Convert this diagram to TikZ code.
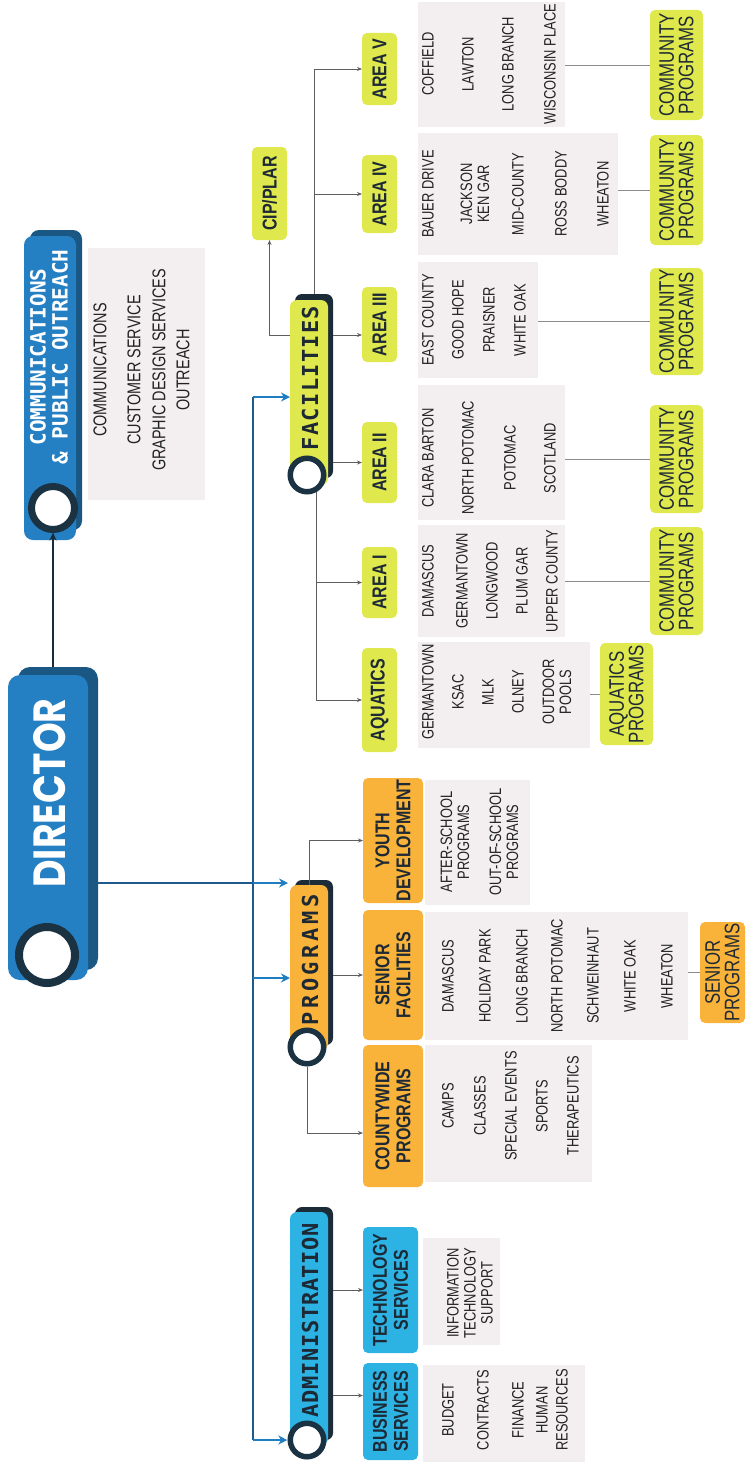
\documentclass[tikz,border=0pt]{standalone}
\usepackage{fontspec}
\setmainfont{Liberation Sans}
\newfontfamily\condf[FakeStretch=0.8]{Liberation Sans}
\newfontfamily\itemf[FakeStretch=0.78]{Liberation Sans}
\newfontfamily\monof{DejaVu Sans Mono}
\newfontfamily\dirf[FakeStretch=0.84]{Poppins}
\usetikzlibrary{arrows.meta}
\definecolor{dirblue}{HTML}{2580C3}
\definecolor{dirshadow}{HTML}{1A5783}
\definecolor{hshadow}{HTML}{1B2B38}
\definecolor{ringc}{HTML}{1B3242}
\definecolor{cyanc}{HTML}{2DB3E3}
\definecolor{orangec}{HTML}{F9B33A}
\definecolor{limec}{HTML}{DFE84C}
\definecolor{panelc}{HTML}{F3EFF0}
\definecolor{itemc}{HTML}{222222}
\definecolor{linec}{HTML}{1E5A8C}
\definecolor{arrowc}{HTML}{1F7DC1}
\definecolor{graylc}{HTML}{5E5E5E}
\definecolor{commlc}{HTML}{8C8C8C}
\definecolor{boxtext}{HTML}{1D2935}
\tikzset{
  panel/.style={fill=panelc, inner sep=0pt, outer sep=0pt},
  hbar/.style={rounded corners=7pt, inner sep=0pt, outer sep=0pt},
  ring/.style={circle, fill=white, draw=ringc, inner sep=0pt, outer sep=3pt},
  htext/.style={rotate=90, inner sep=0pt, align=center, text=boxtext, font=\monof\bfseries\fontsize{22}{22}\selectfont},
  subbox/.style={rotate=90, rounded corners=5pt, inner sep=0pt, outer sep=0pt, align=center, text=boxtext, font=\condf\bfseries\fontsize{20}{21}\selectfont},
  progbox/.style={rotate=90, rounded corners=5pt, inner sep=0pt, outer sep=0pt, align=center, text=boxtext, font=\condf\fontsize{21}{19.5}\selectfont},
  item/.style={rotate=90, inner sep=0pt, align=center, text=itemc, font=\itemf\fontsize{16.5}{17}\selectfont},
  commitem/.style={rotate=90, inner sep=0pt, align=center, text=itemc, font=\itemf\fontsize{18.5}{18}\selectfont},
  mainline/.style={draw=linec, line width=1.8pt},
  mainarrow/.style={draw=arrowc, line width=1.8pt, -{Stealth[length=9pt,width=9pt]}},
  subarrow/.style={draw=graylc, line width=0.9pt, -{Stealth[length=5pt,width=4pt]}},
  commline/.style={draw=commlc, line width=0.9pt},
}
\begin{document}
\begin{tikzpicture}[x=1pt,y=-1pt]
\useasboundingbox (0,0) rectangle (746,1464);

% ---------- panels ----------
\node[panel, minimum width=117pt, minimum height=252pt] (pancom) at (146.5,374) {};
\node[panel, minimum width=147pt, minimum height=125pt] (pan5) at (491.5,64.5) {};
\node[panel, minimum width=200pt, minimum height=122pt] (pan4) at (518,194) {};
\node[panel, minimum width=120pt, minimum height=116pt] (pan3) at (478,320) {};
\node[panel, minimum width=147pt, minimum height=135pt] (pan2) at (491.5,452.5) {};
\node[panel, minimum width=147pt, minimum height=112pt] (pan1) at (491.5,581) {};
\node[panel, minimum width=172pt, minimum height=106pt] (panaq) at (504,695) {};
\node[panel, minimum width=105pt, minimum height=125pt] (panyd) at (477.5,842.5) {};
\node[panel, minimum width=263pt, minimum height=128pt] (pansf) at (556.5,976) {};
\node[panel, minimum width=167pt, minimum height=137pt] (pancw) at (508.5,1113.5) {};
\node[panel, minimum width=77pt, minimum height=107pt] (pants) at (461.5,1291.5) {};
\node[panel, minimum width=162pt, minimum height=97pt] (panbs) at (504,1413.5) {};

% ---------- header bars ----------
% Director
\node[hbar, rounded corners=12pt, fill=dirshadow, minimum width=80pt, minimum height=303pt] (dirsh) at (58,818.5) {};
\node[hbar, rounded corners=12pt, fill=dirblue, minimum width=80pt, minimum height=305pt] (dir) at (48,827.5) {};
\node[ring, line width=8pt, minimum size=56pt] (dcirc) at (47,955) {};
\node[rotate=90, inner sep=0pt, text=white, font=\dirf\bfseries\fontsize{45}{45}\selectfont] (dirlab) at (50,793) {DIRECTOR};
% Communications
\node[hbar, rounded corners=9pt, fill=dirshadow, minimum width=52pt, minimum height=300pt] (comsh) at (56,380) {};
\node[hbar, rounded corners=9pt, fill=dirblue, minimum width=52pt, minimum height=304pt] (com) at (50,388) {};
\node[ring, line width=7pt, minimum size=43pt] (ccirc) at (53,508) {};
\node[htext, text=white, font=\monof\bfseries\fontsize{21}{22}\selectfont] (comlab) at (49,357) {COMMUNICATIONS\\\& PUBLIC OUTREACH};
% Administration
\node[hbar, fill=hshadow, minimum width=38pt, minimum height=233pt] (admsh) at (314,1323.5) {};
\node[hbar, fill=cyanc, minimum width=38pt, minimum height=233pt] (adm) at (309,1328.5) {};
\node[ring, line width=5.5pt, minimum size=33.5pt] (acirc) at (307,1440) {};
\node[htext] (admlab) at (310,1320) {{\addfontfeature{LetterSpace=3}ADMINISTRATION}};
% Programs
\node[hbar, fill=hshadow, minimum width=38pt, minimum height=165pt] (progsh) at (314,962.5) {};
\node[hbar, fill=orangec, minimum width=38pt, minimum height=165pt] (prog) at (309,967.5) {};
\node[ring, line width=5.5pt, minimum size=33.5pt] (pcirc) at (307,1047) {};
\node[htext] (proglab) at (310,960) {{\addfontfeature{LetterSpace=16}PROGRAMS}};
% Facilities
\node[hbar, fill=hshadow, minimum width=38pt, minimum height=184pt] (facsh) at (314,386) {};
\node[hbar, fill=limec, minimum width=38pt, minimum height=185pt] (fac) at (309,392.5) {};
\node[ring, line width=5.5pt, minimum size=33.5pt] (fcirc) at (307,475) {};
\node[htext] (faclab) at (310,378) {{\addfontfeature{LetterSpace=6}FACILITIES}};

% ---------- sub boxes ----------
\node[subbox, fill=cyanc, minimum width=97pt, minimum height=55pt] (bs) at (390.5,1411.5) {BUSINESS\\SERVICES};
\node[subbox, fill=cyanc, minimum width=126pt, minimum height=55pt] (ts) at (390.5,1290) {TECHNOLOGY\\SERVICES};
\node[subbox, fill=orangec, minimum width=142pt, minimum height=60pt] (cw) at (393,1116) {COUNTYWIDE\\PROGRAMS};
\node[subbox, fill=orangec, minimum width=130pt, minimum height=60pt] (sf) at (393,975) {SENIOR\\FACILITIES};
\node[subbox, fill=orangec, minimum width=125pt, minimum height=60pt] (yd) at (393,840.5) {YOUTH\\DEVELOPMENT};
\node[subbox, fill=limec, minimum width=93pt, minimum height=35pt] (cip) at (269.5,193.5) {CIP/PLAR};
\node[subbox, fill=limec, minimum width=72pt, minimum height=35pt] (a5) at (379.5,69) {AREA V};
\node[subbox, fill=limec, minimum width=78pt, minimum height=35pt] (a4) at (379.5,194) {AREA IV};
\node[subbox, fill=limec, minimum width=75pt, minimum height=35pt] (a3) at (379.5,324.5) {AREA III};
\node[subbox, fill=limec, minimum width=81pt, minimum height=35pt] (a2) at (379.5,462.5) {AREA II};
\node[subbox, fill=limec, minimum width=71pt, minimum height=35pt] (a1) at (379.5,582.5) {AREA I};
\node[subbox, fill=limec, minimum width=104pt, minimum height=35pt] (aq) at (379.5,700) {AQUATICS};

\node[progbox, fill=limec, minimum width=110pt, minimum height=53pt] (cp5) at (676.5,65) {COMMUNITY\\PROGRAMS};
\node[progbox, fill=limec, minimum width=110pt, minimum height=53pt] (cp4) at (676.5,190) {COMMUNITY\\PROGRAMS};
\node[progbox, fill=limec, minimum width=107pt, minimum height=53pt] (cp3) at (676.5,321.5) {COMMUNITY\\PROGRAMS};
\node[progbox, fill=limec, minimum width=108pt, minimum height=53pt] (cp2) at (676.5,459) {COMMUNITY\\PROGRAMS};
\node[progbox, fill=limec, minimum width=108pt, minimum height=53pt] (cp1) at (676.5,581) {COMMUNITY\\PROGRAMS};
\node[progbox, fill=limec, minimum width=102pt, minimum height=53pt] (aqp) at (626.5,694) {AQUATICS\\PROGRAMS};
\node[progbox, fill=orangec, minimum width=101pt, minimum height=45pt] (sp) at (722.5,972.5) {SENIOR\\PROGRAMS};

% ---------- list items ----------
\node[commitem] (c1) at (100,370) {COMMUNICATIONS};
\node[commitem] (c2) at (134,370) {CUSTOMER SERVICE};
\node[commitem] (c3) at (159,370) {GRAPHIC DESIGN SERVICES};
\node[commitem] (c4) at (183,370) {OUTREACH};

\node[item] (i51) at (428,64) {COFFIELD};
\node[item] (i52) at (468,64) {LAWTON};
\node[item] (i53) at (508,64) {LONG BRANCH};
\node[item] (i54) at (550,64) {WISCONSIN PLACE};

\node[item] (i41) at (428,194) {BAUER DRIVE};
\node[item] (i42) at (475,194) {JACKSON\\KEN GAR};
\node[item] (i43) at (518,194) {MID-COUNTY};
\node[item] (i44) at (561,194) {ROSS BODDY};
\node[item] (i45) at (603,194) {WHEATON};

\node[item] (i31) at (428,320) {EAST COUNTY};
\node[item] (i32) at (458,320) {GOOD HOPE};
\node[item] (i33) at (489,320) {PRAISNER};
\node[item] (i34) at (520,320) {WHITE OAK};

\node[item] (i21) at (428,458) {CLARA BARTON};
\node[item] (i22) at (468,458) {NORTH POTOMAC};
\node[item] (i23) at (510,458) {POTOMAC};
\node[item] (i24) at (550,458) {SCOTLAND};

\node[item] (i11) at (428,581) {DAMASCUS};
\node[item] (i12) at (462,581) {GERMANTOWN};
\node[item] (i13) at (492,581) {LONGWOOD};
\node[item] (i14) at (522,581) {PLUM GAR};
\node[item] (i15) at (552,581) {UPPER COUNTY};

\node[item] (q1) at (428,692) {GERMANTOWN};
\node[item] (q2) at (458,692) {KSAC};
\node[item] (q3) at (488,692) {MLK};
\node[item] (q4) at (518,692) {OLNEY};
\node[item] (q5) at (557,692) {OUTDOOR\\POOLS};

\node[item] (y1) at (455,842) {AFTER-SCHOOL\\PROGRAMS};
\node[item] (y2) at (504,842) {OUT-OF-SCHOOL\\PROGRAMS};

\node[item] (s1) at (448,976) {DAMASCUS};
\node[item] (s2) at (485,976) {HOLIDAY PARK};
\node[item] (s3) at (522,976) {LONG BRANCH};
\node[item] (s4) at (557,976) {NORTH POTOMAC};
\node[item] (s5) at (593,976) {SCHWEINHAUT};
\node[item] (s6) at (630,976) {WHITE OAK};
\node[item] (s7) at (667,976) {WHEATON};

\node[item] (w1) at (448,1106) {CAMPS};
\node[item] (w2) at (480,1106) {CLASSES};
\node[item] (w3) at (511,1106) {SPECIAL EVENTS};
\node[item] (w4) at (542,1106) {SPORTS};
\node[item] (w5) at (573,1106) {THERAPEUTICS};

\node[item] (t1) at (470,1293) {INFORMATION\\TECHNOLOGY\\SUPPORT};

\node[item] (b1) at (448,1410) {BUDGET};
\node[item] (b2) at (483,1410) {CONTRACTS};
\node[item] (b3) at (518,1410) {FINANCE};
\node[item] (b4) at (552,1410) {HUMAN\\[3pt]RESOURCES};

% ---------- main connectors ----------
\coordinate (tTop) at (253,397);
\coordinate (tDir) at (253,883);
\coordinate (tProg) at (253,978);
\coordinate (tBot) at (253,1440);
\coordinate (progTip) at (288,883);
\draw[draw=hshadow, line width=1.6pt, -{Stealth[length=8pt,width=7pt]}] (dirsh.north -| ccirc.south) -- (ccirc.south);
\draw[mainline] (dirsh.east |- tDir) -- (tDir);
\draw[mainline] (tTop) -- (tBot);
\draw[mainarrow] (tTop) -- (tTop -| fac.west);
\draw[mainarrow] (tDir) -- (progTip);
\draw[mainarrow] (tProg) -- (tProg -| prog.west);
\draw[mainarrow] (tBot) -- (acirc.west);

% ---------- sub connectors ----------
\coordinate (bsin) at ([yshift=16pt]bs.north);
\draw[subarrow] (admsh.east |- bsin) -- (bsin);
\draw[subarrow] (admsh.east |- ts.north) -- (ts.north);

\draw[subarrow] (prog.north) -- (prog.north |- yd.north) -- (yd.north);
\draw[subarrow] (progsh.east |- sf.north) -- (sf.north);
\coordinate (cwin) at ([yshift=-17pt]cw.north);
\draw[subarrow] (pcirc.south) -- (pcirc.south |- cwin) -- (cwin);

\coordinate (facL) at ([yshift=57.5pt]fac.west);
\draw[subarrow] (facL) -| (cip.west);
\coordinate (f3) at ([yshift=51pt]facsh.east);
\draw[subarrow] (f3) -- (f3 -| a3.north);
\draw[subarrow] (facsh.east |- a2.north) -- (a2.north);
\draw[subarrow] (facsh.north) -- (facsh.north |- a5.north) -- (a5.north);
\draw[subarrow] (facsh.north |- a4.north) -- (a4.north);
\draw[subarrow] (fcirc.-60) -- (fcirc.-60 |- aq.north) -- (aq.north);
\draw[subarrow] (fcirc.-60 |- a1.north) -- (a1.north);

% ---------- community lines ----------
\draw[commline] (pan5.east |- cp5.north) -- (cp5.north);
\draw[commline] (pan4.east |- cp4.north) -- (cp4.north);
\draw[commline] (pan3.east |- cp3.north) -- (cp3.north);
\draw[commline] (pan2.east |- cp2.north) -- (cp2.north);
\draw[commline] (pan1.east |- cp1.north) -- (cp1.north);
\draw[commline] (panaq.east |- aqp.north) -- (aqp.north);
\draw[commline] (pansf.east |- sp.north) -- (sp.north);
\end{tikzpicture}
\end{document}
